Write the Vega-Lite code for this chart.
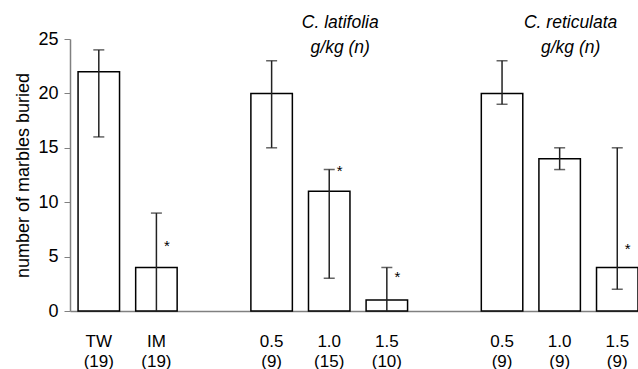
{
  "$schema": "https://vega.github.io/schema/vega-lite/v6.json",
  "width": 568,
  "height": 272,
  "autosize": {"type": "none"},
  "padding": {"left": 70, "top": 39, "right": 0, "bottom": 58},
  "background": "white",
  "config": {
    "view": {"stroke": null},
    "font": "Liberation Sans",
    "text": {"font": "Liberation Sans"}
  },
  "datasets": {
    "bars": [
      {"slot": "TW|(19)", "mean": 22, "lo": 16, "hi": 24},
      {"slot": "IM|(19)", "mean": 4, "lo": 0, "hi": 9, "star": 6.3},
      {"slot": "0.5|(9)", "mean": 20, "lo": 15, "hi": 23},
      {"slot": "1.0|(15)", "mean": 11, "lo": 3, "hi": 13, "star": 13.2},
      {"slot": "1.5|(10)", "mean": 1, "lo": 0, "hi": 4, "star": 3.5},
      {"slot": "0.5|(9) ", "mean": 20, "lo": 19, "hi": 23},
      {"slot": "1.0|(9)", "mean": 14, "lo": 13, "hi": 15},
      {"slot": "1.5|(9)", "mean": 4, "lo": 2, "hi": 15, "star": 6.1}
    ],
    "groups": [
      {"slot": "1.0|(15)", "label": "C. latifolia\ng/kg (n)"},
      {"slot": "1.0|(9)", "label": "C. reticulata\ng/kg (n)"}
    ]
  },
  "encoding": {
    "x": {
      "field": "slot",
      "type": "nominal",
      "sort": null,
      "scale": {
        "domain": ["TW|(19)", "IM|(19)", "gap1", "0.5|(9)", "1.0|(15)", "1.5|(10)", "gap2", "0.5|(9) ", "1.0|(9)", "1.5|(9)"],
        "paddingInner": 0.28,
        "paddingOuter": 0.07,
        "align": 1
      },
      "axis": {
        "title": null,
        "ticks": false,
        "labelAngle": 0,
        "labelExpr": "indexof(datum.value, '|') >= 0 ? split(datum.value, '|') : ''",
        "labelFontSize": 17,
        "labelColor": "#000000",
        "labelPadding": 22,
        "labelLineHeight": 20,
        "domainColor": "#808080",
        "domainWidth": 1.5
      }
    }
  },
  "layer": [
    {
      "data": {"name": "bars"},
      "mark": {"type": "bar", "fill": "white", "stroke": "#000000", "strokeWidth": 1.5},
      "encoding": {
        "y": {
          "field": "mean",
          "type": "quantitative",
          "scale": {"domain": [0, 25], "nice": false},
          "axis": {
            "title": "number of marbles buried",
            "titleFontSize": 18,
            "titleFontWeight": "normal",
            "titleColor": "#000000",
            "titlePadding": 5,
            "values": [0, 5, 10, 15, 20, 25],
            "grid": false,
            "tickSize": 6,
            "tickColor": "#808080",
            "domainColor": "#808080",
            "domainWidth": 1.5,
            "labelFontSize": 18,
            "labelColor": "#000000",
            "labelPadding": 6
          }
        }
      }
    },
    {
      "data": {"name": "bars"},
      "mark": {"type": "rule", "stroke": "#222222", "strokeWidth": 1.5},
      "encoding": {
        "y": {"field": "lo", "type": "quantitative"},
        "y2": {"field": "hi"}
      }
    },
    {
      "data": {"name": "bars"},
      "mark": {"type": "tick", "color": "#222222", "size": 11, "thickness": 1.5},
      "encoding": {"y": {"field": "hi", "type": "quantitative"}}
    },
    {
      "data": {"name": "bars"},
      "transform": [{"filter": "datum.lo > 0"}],
      "mark": {"type": "tick", "color": "#222222", "size": 11, "thickness": 1.5},
      "encoding": {"y": {"field": "lo", "type": "quantitative"}}
    },
    {
      "data": {"name": "bars"},
      "transform": [{"filter": "isValid(datum.star)"}],
      "mark": {"type": "text", "fontSize": 15, "dx": 10.5, "dy": 9, "baseline": "alphabetic", "color": "#000000"},
      "encoding": {
        "y": {"field": "star", "type": "quantitative"},
        "text": {"value": "*"}
      }
    },
    {
      "data": {"name": "groups"},
      "mark": {"type": "text", "fontSize": 17.5, "fontStyle": "italic", "dx": 11, "baseline": "alphabetic", "lineBreak": "\n", "lineHeight": 25, "color": "#000000"},
      "encoding": {
        "y": {"datum": 26.05},
        "text": {"field": "label"}
      }
    }
  ]
}
